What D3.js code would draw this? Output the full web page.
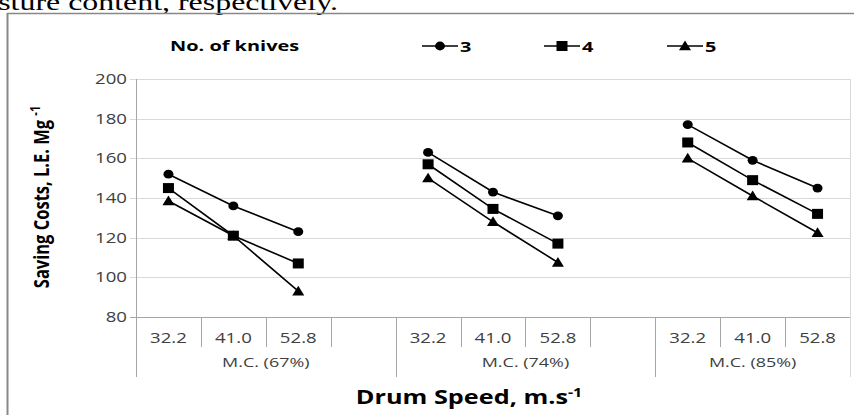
<!DOCTYPE html>
<html>
<head>
<meta charset="utf-8">
<script src="https://d3js.org/d3.v7.min.js"></script>
<style>
  body { margin: 0; background: #fff; }
  svg { display: block; }
</style>
</head>
<body>
<div id="chart"></div>
<script>
// data
var groups = ["M.C. (67%)", "M.C. (74%)", "M.C. (85%)"];
var speeds = ["32.2", "41.0", "52.8"];
var knives = ["3", "4", "5"];
var yTicks = [80, 100, 120, 140, 160, 180, 200];
// one row per moisture group, one value per drum speed
var knives3 = [[152, 136, 123], [163, 143, 131], [177, 159, 145]];
var knives4 = [[145, 121, 107], [157, 134.5, 117], [168, 149, 132]];
var knives5 = [[138.5, 121, 93], [150, 128, 107.5], [160, 141, 122.5]];
var seriesValues = [knives3, knives4, knives5];

var W = 854, H = 415;
var pLeft = 136, pRight = 850, pTop = 79, pBottom = 317;
var font = "'Open Sans', 'Liberation Sans', sans-serif";
var SX = 1.33;   // the scanned figure is stretched sideways

var svg = d3.select("#chart").append("svg")
  .attr("width", W).attr("height", H);

// text helper: place at (x,y) and widen horizontally
function stext(parent, x, y, anchor, size, bold) {
  return parent.append("text")
    .attr("transform", "translate(" + x + "," + y + ") scale(" + SX + ",1)")
    .attr("text-anchor", anchor)
    .attr("font-family", font)
    .attr("font-size", size)
    .attr("font-weight", bold ? "bold" : null);
}

// clipped paragraph text above the figure
stext(svg, 338, 10, "end", 24, false)
  .attr("font-family", "'Liberation Serif', 'Times New Roman', serif")
  .text("moisture content, respectively.");

// figure frame
svg.append("line").attr("x1", 7.5).attr("x2", 7.5).attr("y1", 13).attr("y2", H)
  .attr("stroke", "#888").attr("stroke-width", 2);
svg.append("line").attr("x1", 7).attr("x2", W).attr("y1", 13.5).attr("y2", 13.5)
  .attr("stroke", "#888").attr("stroke-width", 1.5);

// 11 slots: 4 + 4 + 3 (empty slot between groups)
var slots = d3.range(11);
var x = d3.scaleBand().domain(slots).range([pLeft, pRight]);
var y = d3.scaleLinear().domain([80, 200]).range([pBottom, pTop]);

function slotOf(g, i) { return g * 4 + i; }
function cx(slot) { return x(slot) + x.bandwidth() / 2; }

// gridlines
svg.append("g").selectAll("line").data(yTicks).join("line")
  .attr("x1", pLeft - 6).attr("x2", pRight)
  .attr("y1", function(d) { return Math.round(y(d)) + 0.5; })
  .attr("y2", function(d) { return Math.round(y(d)) + 0.5; })
  .attr("stroke", function(d) { return d === 80 ? "#a6a6a6" : "#d9d9d9"; })
  .attr("stroke-width", 1);

// y tick labels
yTicks.forEach(function(t) {
  stext(svg, pLeft - 9, y(t) + 5, "end", 14, false)
    .attr("fill", "#404040").text(t);
});

// vertical separators of the category axis
var bounds = d3.range(12).map(function(i) { return i < 11 ? x(i) : x(10) + x.bandwidth(); });
var groupBounds = [0, 4, 8, 11];
svg.append("g").selectAll("line").data(bounds).join("line")
  .attr("x1", function(d) { return Math.round(d) + 0.5; })
  .attr("x2", function(d) { return Math.round(d) + 0.5; })
  .attr("y1", function(d, i) { return (i === 0 || i === 11) ? pTop : pBottom; })
  .attr("y2", function(d, i) { return groupBounds.indexOf(i) >= 0 ? 377 : 347; })
  .attr("stroke", function(d, i) { return i === 11 ? "#d9d9d9" : "#a6a6a6"; })
  .attr("stroke-width", 1);

// speed labels
groups.forEach(function(gname, g) {
  speeds.forEach(function(s, i) {
    stext(svg, cx(slotOf(g, i)), 343, "middle", 14, false)
      .attr("fill", "#404040").text(s);
  });
});

// group labels
groups.forEach(function(gname, g) {
  var a = x(slotOf(g, 0));
  var b = g < 2 ? x(slotOf(g + 1, 0)) : pRight;
  stext(svg, (a + b) / 2, 367, "middle", 13.5, false)
    .attr("fill", "#404040").text(gname);
});

// markers
function marker(sel, k) {
  if (k === 0) {
    sel.append("ellipse").attr("rx", 5).attr("ry", 4.4).attr("fill", "#000");
  } else if (k === 1) {
    sel.append("rect").attr("x", -5.5).attr("y", -5).attr("width", 11).attr("height", 10).attr("fill", "#000");
  } else {
    sel.append("path").attr("d", "M0,-5.5L6,4.2L-6,4.2Z").attr("fill", "#000");
  }
}

var line = d3.line()
  .x(function(d) { return cx(d.slot); })
  .y(function(d) { return y(d.v); });

seriesValues.forEach(function(series, k) {
  series.forEach(function(vals, g) {
    var pts = vals.map(function(v, i) { return { slot: slotOf(g, i), v: v }; });
    svg.append("path").datum(pts)
      .attr("d", line)
      .attr("fill", "none").attr("stroke", "#000").attr("stroke-width", 1.6);
    pts.forEach(function(p) {
      var m = svg.append("g")
        .attr("transform", "translate(" + cx(p.slot) + "," + y(p.v) + ")");
      marker(m, k);
    });
  });
});

// legend
var legY = 46;
stext(svg, 170, legY + 5, "start", 15, true).text("No. of knives");
var legX = [440, 562, 685];
knives.forEach(function(kn, k) {
  var lg = svg.append("g").attr("transform", "translate(" + legX[k] + "," + legY + ")");
  lg.append("line").attr("x1", -18).attr("x2", 18).attr("y1", 0).attr("y2", 0)
    .attr("stroke", "#000").attr("stroke-width", 1.6);
  marker(lg.append("g"), k);
  stext(lg, 20, 5.5, "start", 15, true).text(kn);
});

// axis titles
var yt = svg.append("text")
  .attr("transform", "translate(49,197) scale(" + SX + ",1) rotate(-90)")
  .attr("text-anchor", "middle")
  .attr("font-family", font).attr("font-size", 16.5).attr("font-weight", "bold");
yt.append("tspan").text("Saving Costs, L.E. Mg ");
yt.append("tspan").attr("font-size", 11).attr("dy", -7).text("-1");

var xt = stext(svg, 469, 404, "middle", 19, true);
xt.append("tspan").text("Drum Speed, m.s");
xt.append("tspan").attr("font-size", 12).attr("dy", -7).text("-1");
</script>
</body>
</html>
